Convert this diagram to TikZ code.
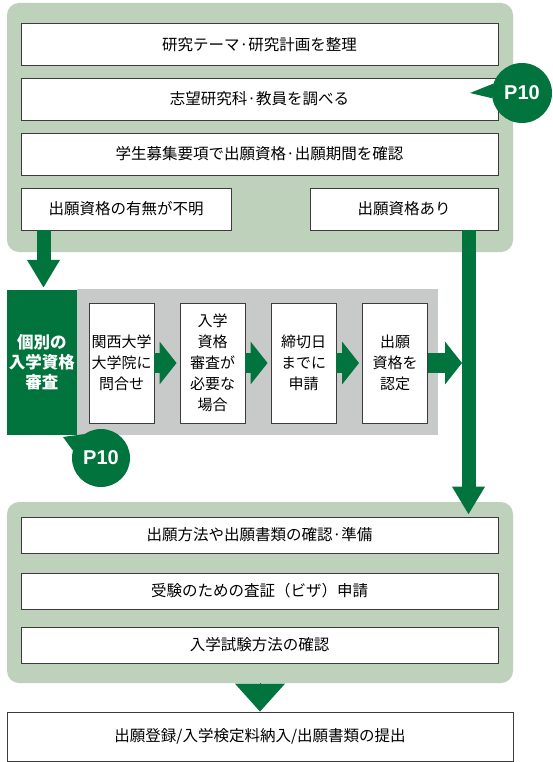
\documentclass[tikz,border=0pt]{standalone}
\usepackage{fontspec}
\setmainfont{Noto Sans CJK JP}
\newfontfamily\badgefont{Liberation Sans}
\usetikzlibrary{arrows.meta,positioning}

\definecolor{panelgreen}{RGB}{190,209,186}
\definecolor{deepgreen}{RGB}{0,116,60}
\definecolor{bandgray}{RGB}{200,201,201}
\definecolor{rimgray}{RGB}{60,60,60}

\tikzset{
  panel/.style={fill=panelgreen, rounded corners=12pt, inner sep=0pt},
  wbox/.style={draw=rimgray, line width=0.9pt, fill=white, inner sep=0pt,
    minimum height=42pt, font=\fontsize{15.5}{18}\selectfont},
  stepbox/.style={draw=rimgray, line width=0.9pt, fill=white, inner sep=0pt,
    minimum width=65pt, minimum height=120pt, align=center,
    font=\fontsize{15}{21}\selectfont},
  badge/.style={circle, fill=deepgreen, text=white, minimum size=60pt, inner sep=0pt,
    font=\badgefont\bfseries\fontsize{20}{20}\selectfont},
  bigarrow/.style={deepgreen, line width=14pt, -{Triangle[width=31pt,length=28pt]}},
  smallarrow/.style={deepgreen, line width=20pt, -{Triangle[width=42pt,length=17pt]}},
}

\begin{document}
\begin{tikzpicture}[x=1pt,y=-1pt]
  \useasboundingbox (0,0) rectangle (553,762);

  % upper block
  \node[panel, minimum width=506pt, minimum height=249pt] (upper) at (260,127.5) {};
  \node[wbox, minimum width=477pt] (theme) at (259.5,44.5) {研究テーマ·研究計画を整理};
  \node[wbox, minimum width=477pt] (survey) at (259.5,99) {志望研究科·教員を調べる};
  \node[wbox, minimum width=477pt] (guide) at (259.5,154) {学生募集要項で出願資格·出願期間を確認};
  \node[wbox, minimum width=210pt] (unclear) at (126,209) {出願資格の有無が不明};
  \node[wbox, minimum width=188pt] (has) at (404,209) {出願資格あり};

  \node[badge] (p10top) at (522,93) {P10};
  \coordinate (ptip) at (470,93);
  \fill[deepgreen] (p10top.162) -- (ptip) -- (p10top.190) -- cycle;

  % individual screening
  \fill[bandgray] (77,289) rectangle (438,435);
  \node[fill=deepgreen, text=white, minimum width=70pt, minimum height=145pt, inner sep=0pt,
    align=center, font=\bfseries\fontsize{16.5}{20}\selectfont] (indiv) at (42,362.5)
    {個別の\\入学資格\\審査};
  \node[stepbox] (ask) at (121.5,363) {関西大学\\大学院に\\問合せ};
  \node[stepbox] (need) at (212.5,363) {入学\\資格\\審査が\\必要な\\場合};
  \node[stepbox] (apply) at (303.5,363) {締切日\\までに\\申請};
  \node[stepbox] (ok) at (395,363) {出願\\資格を\\認定};

  \node[badge, minimum size=58pt] (p10low) at (101,458) {P10};
  \coordinate (qtip) at (63,437);
  \fill[deepgreen] (p10low.125) -- (qtip) -- (p10low.165) -- cycle;

  % lower block
  \node[panel, minimum width=506pt, minimum height=181pt] (lower) at (260,592.5) {};
  \node[wbox, minimum width=477pt, minimum height=36pt] (method) at (259.5,535) {出願方法や出願書類の確認·準備};
  \node[wbox, minimum width=477pt, minimum height=36pt] (visa) at (259.5,591) {受験のための査証（ビザ）申請};
  \node[wbox, minimum width=477pt, minimum height=36pt] (exam) at (259.5,645) {入学試験方法の確認};
  \node[wbox, minimum width=506pt, minimum height=49pt] (final) at (260,736.5) {出願登録/入学検定料納入/出願書類の提出};

  % arrows
  \coordinate (lcol) at (43.5,0);
  \coordinate (rcol) at (468.5,0);
  \draw[bigarrow, shorten >=2pt] (unclear.south -| lcol) -- (indiv.north -| lcol);
  \draw[bigarrow, shorten >=2pt] (has.south -| rcol) -- (method.north -| rcol);
  \draw[smallarrow, shorten >=3pt] (ask) -- (need);
  \draw[smallarrow, shorten >=3pt] (need) -- (apply);
  \draw[smallarrow, shorten >=3pt] (apply) -- (ok);
  \draw[smallarrow, shorten >=6.5pt] (ok.east) -- (ok.east -| rcol);
  \draw[deepgreen, line width=1pt, -{Triangle[width=50pt,length=28pt]}] (lower.south) -- (final.north);
\end{tikzpicture}
\end{document}
